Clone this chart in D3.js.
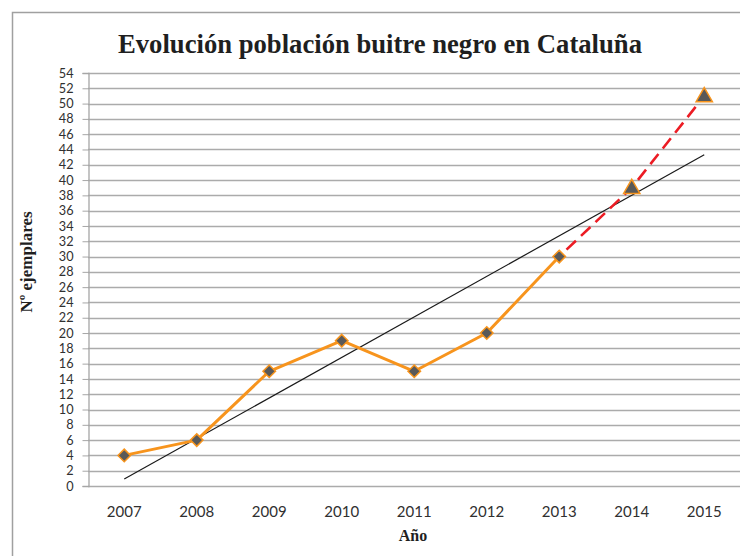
<!DOCTYPE html>
<html>
<head>
<meta charset="utf-8">
<script src="https://cdn.jsdelivr.net/npm/d3@7"></script>
<style>
  body { margin: 0; background: #fff; }
  svg { display: block; }
</style>
</head>
<body>
<svg id="chart" width="740" height="556"></svg>
<script>
const years = ["2007", "2008", "2009", "2010", "2011", "2012", "2013", "2014", "2015"]
const counted = [4, 6, 15, 19, 15, 20, 30, 39, 51]
const observedYears = years.slice(0, 7)
const forecastYears = years.slice(6)
const yTicks = d3.range(0, 55, 2)

const svg = d3.select("#chart")
const margin = {left: 88, top: 73, right: 0, bottom: 70}
const width = 740, height = 556

// chart frame (runs off the right and bottom edge)
svg.append("rect")
    .attr("x", 12.5).attr("y", 12.5)
    .attr("width", 760).attr("height", 600)
    .attr("fill", "none")
    .attr("stroke", "#a0a0a0")
    .attr("stroke-width", 1.5)

const x = d3.scaleBand().domain(years).range([margin.left, 740.5])
const y = d3.scaleLinear().domain([0, 54]).range([486, margin.top])
const cx = d => x(d) + x.bandwidth() / 2
const byYear = Object.fromEntries(years.map((yr, i) => [yr, counted[i]]))

// gridlines
svg.append("g")
    .selectAll("line")
    .data(yTicks)
    .join("line")
    .attr("x1", margin.left).attr("x2", width)
    .attr("y1", d => Math.round(y(d)) + 0.5).attr("y2", d => Math.round(y(d)) + 0.5)
    .attr("stroke", "#ababab")
    .attr("stroke-width", 1.3)

// y axis
const yAxis = svg.append("g")
    .attr("transform", `translate(${margin.left + 0.5},0)`)
    .call(d3.axisLeft(y).tickValues(yTicks).tickSize(6).tickPadding(9))
yAxis.select(".domain").attr("stroke", "#a6a6a6").attr("stroke-width", 1.3)
yAxis.selectAll(".tick line").attr("stroke", "#a6a6a6")
yAxis.selectAll("text")
    .attr("fill", "#303030")
    .style("font-family", "Lato, 'Open Sans', sans-serif")
    .style("font-size", "12.7px")

// x axis labels (no ticks shown)
const xAxis = svg.append("g")
    .attr("transform", `translate(0,486)`)
    .call(d3.axisBottom(x).tickSize(0).tickPadding(20))
xAxis.select(".domain").remove()
xAxis.selectAll("text")
    .attr("fill", "#303030")
    .style("font-family", "Lato, 'Open Sans', sans-serif")
    .style("font-size", "15px")

// linear trend over all years
const idx = counted.map((_, i) => i + 1)
const mx = d3.mean(idx), my = d3.mean(counted)
const slope = d3.sum(idx, (v, i) => (v - mx) * (counted[i] - my)) / d3.sum(idx, v => (v - mx) ** 2)
const trendAt = i => my + slope * (i + 1 - mx)
svg.append("line")
    .attr("x1", cx(years[0])).attr("y1", y(trendAt(0)))
    .attr("x2", cx(years[years.length - 1])).attr("y2", y(trendAt(years.length - 1)))
    .attr("stroke", "#1a1a1a")
    .attr("stroke-width", 1.2)

const line = d3.line().x(d => cx(d)).y(d => y(byYear[d]))

// forecast dashed
svg.append("path")
    .attr("d", line(forecastYears))
    .attr("fill", "none")
    .attr("stroke", "#ec1c24")
    .attr("stroke-width", 2.6)
    .attr("stroke-dasharray", "13,7")
    .attr("stroke-dashoffset", -10)

// observed series
svg.append("path")
    .attr("d", line(observedYears))
    .attr("fill", "none")
    .attr("stroke", "#f7941d")
    .attr("stroke-width", 3)
    .attr("stroke-linejoin", "round")

svg.append("g")
    .selectAll("path")
    .data(observedYears)
    .join("path")
    .attr("d", d3.symbol(d3.symbolDiamond2, 100))
    .attr("transform", d => `translate(${cx(d)},${y(byYear[d])})`)
    .attr("fill", "#595959")
    .attr("stroke", "#f7941d")
    .attr("stroke-width", 1.5)

svg.append("g")
    .selectAll("path")
    .data(forecastYears.slice(1))
    .join("path")
    .attr("d", d3.symbol(d3.symbolTriangle, 115))
    .attr("transform", d => `translate(${cx(d)},${y(byYear[d]) + 1})`)
    .attr("fill", "#595959")
    .attr("stroke", "#f7941d")
    .attr("stroke-width", 1.5)

// titles
svg.append("text")
    .attr("x", 380).attr("y", 53)
    .attr("text-anchor", "middle")
    .attr("textLength", 524)
    .attr("lengthAdjust", "spacingAndGlyphs")
    .style("font-family", "'Liberation Serif', serif")
    .style("font-weight", "bold")
    .style("font-size", "27px")
    .attr("fill", "#1f1f1f")
    .text("Evolución población buitre negro en Cataluña")

svg.append("text")
    .attr("transform", `translate(32,262) rotate(-90)`)
    .attr("text-anchor", "middle")
    .style("font-family", "'Liberation Serif', serif")
    .style("font-weight", "bold")
    .style("font-size", "17px")
    .attr("fill", "#1f1f1f")
    .text("Nº ejemplares")

svg.append("text")
    .attr("x", 413).attr("y", 541)
    .attr("text-anchor", "middle")
    .style("font-family", "'Liberation Serif', serif")
    .style("font-weight", "bold")
    .style("font-size", "16px")
    .attr("fill", "#1f1f1f")
    .text("Año")
</script>
</body>
</html>
